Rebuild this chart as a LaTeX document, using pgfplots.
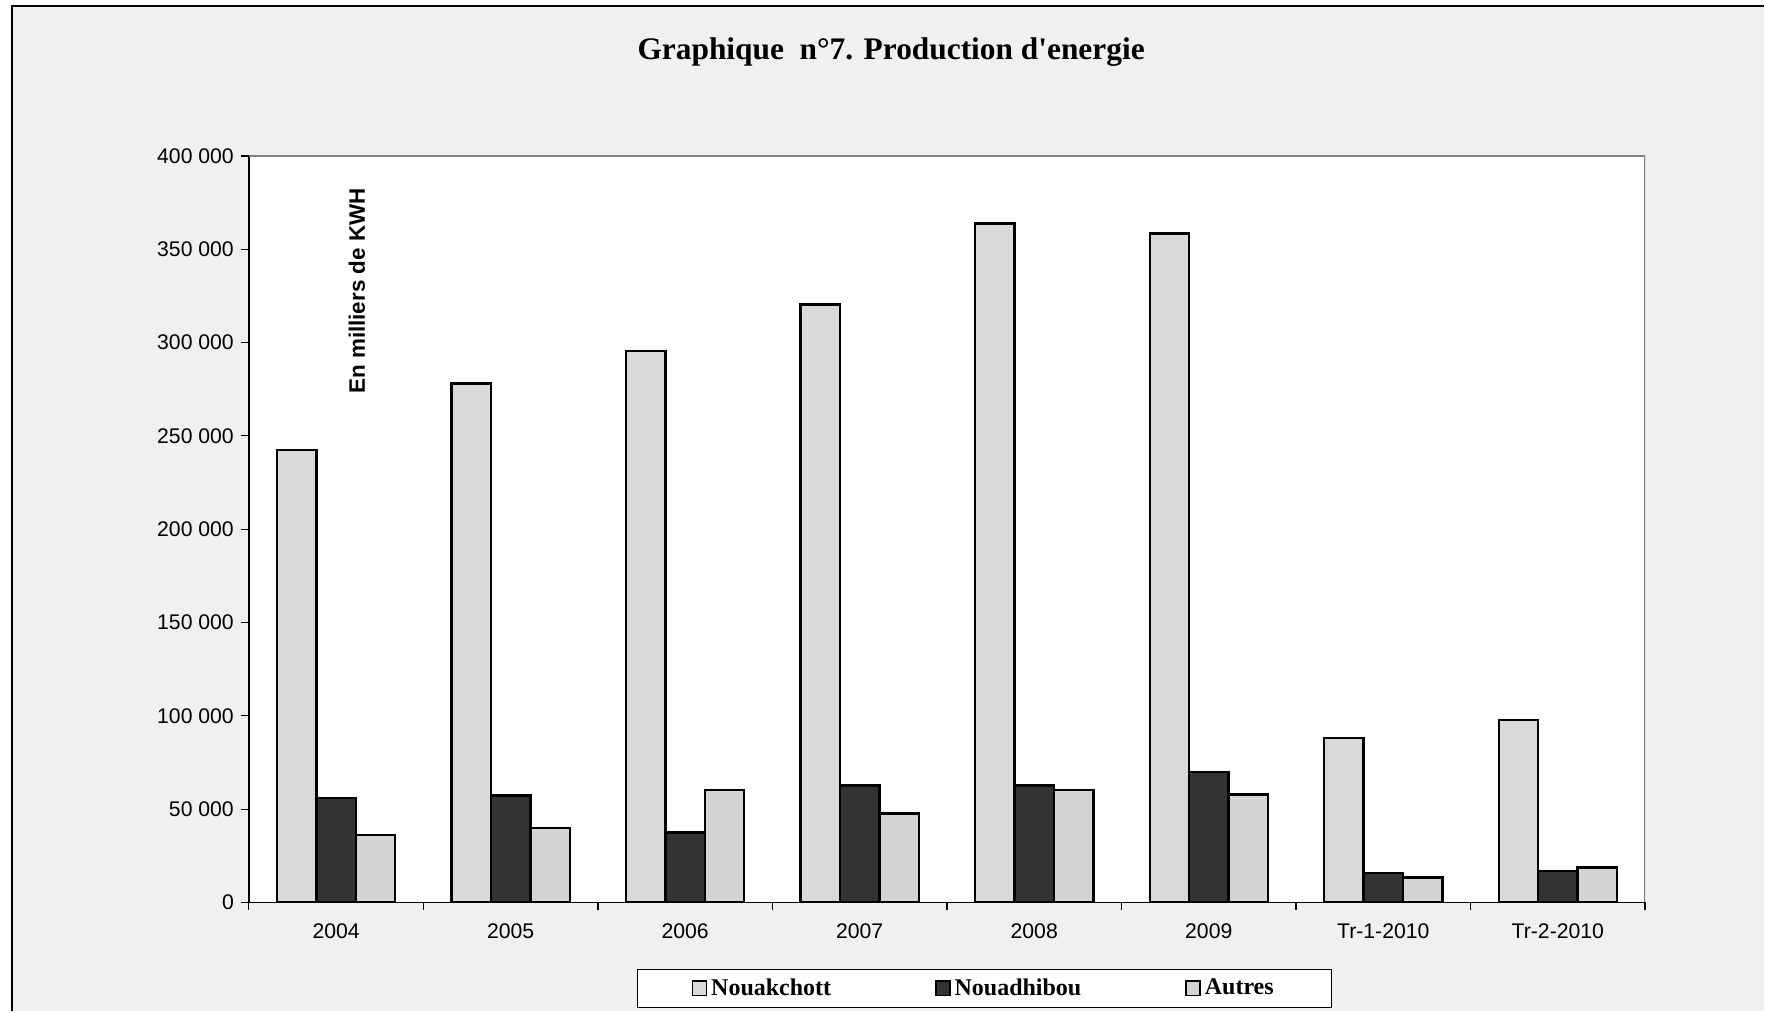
\documentclass[border=0pt]{standalone}
\usepackage{pgfplots}
\pgfplotsset{compat=1.18}
\usepackage{fontspec}
\setmainfont{Liberation Sans}
\newfontfamily\serif{Liberation Serif}
\definecolor{bgc}{HTML}{F0F0F0}
\definecolor{nkc}{HTML}{D9D9D9}
\definecolor{ndc}{HTML}{333333}
\definecolor{auc}{HTML}{D4D4D4}
\begin{document}
\begin{tikzpicture}
% page and textured background
\path (0,0) rectangle (882.5pt,506pt);
\fill[bgc] (6pt,0) rectangle (882.5pt,503pt);
\draw[black,line width=1pt] (6pt,0) -- (6pt,503pt) -- (882.5pt,503pt);
\node[font=\serif\bfseries\fontsize{15.7}{18}\selectfont] at (445.8pt,480pt) {Graphique\ \ n°7. Production d'energie};
\begin{axis}[
    at={(124.5pt,54.5pt)}, anchor=south west,
    scale only axis,
    width=698.5pt, height=373.5pt,
    axis background/.style={fill=white},
    ybar=0pt, bar width=19.7pt,
    xmin=-0.5, xmax=7.5,
    ymin=0, ymax=400000,
    xtick={0,...,7},
    xticklabels={2004,2005,2006,2007,2008,2009,Tr-1-2010,Tr-2-2010},
    major x tick style={draw=none},
    minor xtick={-0.5,0.5,...,7.5},
    ytick={0,50000,...,400000},
    tick align=outside,
    major tick length=4pt, minor tick length=4pt,
    tick style={black, line width=0.6pt},
    scaled y ticks=false,
    yticklabel style={/pgf/number format/.cd, fixed, 1000 sep={\ }, assume math mode=true},
    ticklabel style={font=\fontsize{10.6}{12}\selectfont},
    xticklabel style={yshift=-3pt},
    axis x line*=bottom, axis y line*=left,
    axis line style={black, line width=0.8pt},
    every outer x axis line/.append style={-},
    every outer y axis line/.append style={-},
    legend style={at={(0.527,-0.115)}, anchor=center, legend columns=3,
        draw=black, fill=white, line width=0.6pt, inner xsep=27pt, inner ysep=2.5pt,
        font=\serif\bfseries\fontsize{12}{14}\selectfont,
        /tikz/every even column/.append style={column sep=50pt}},
    legend image code/.code={\draw[#1, line width=0.8pt] (0pt,-3.6pt) rectangle (7pt,3.8pt);},
    every axis plot/.append style={draw=black, line width=1.2pt},
]
\addplot[fill=nkc] coordinates {(0,242500) (1,278100) (2,295600) (3,320400) (4,363800) (5,358400) (6,88100) (7,97700)};
\addplot[fill=ndc] coordinates {(0,56100) (1,57300) (2,37400) (3,62700) (4,62700) (5,70000) (6,15700) (7,16900)};
\addplot[fill=auc] coordinates {(0,36200) (1,39800) (2,60300) (3,47700) (4,60300) (5,57900) (6,13300) (7,18700)};
\legend{Nouakchott, Nouadhibou, Autres}
\node[rotate=90, font=\bfseries\fontsize{11.2}{13}\selectfont] at (rel axis cs:0.0773,0.819) {En milliers de KWH};
\draw[gray, line width=0.8pt] (rel axis cs:0,1) -- (rel axis cs:1,1) -- (rel axis cs:1,0);
\end{axis}
\end{tikzpicture}
\end{document}
